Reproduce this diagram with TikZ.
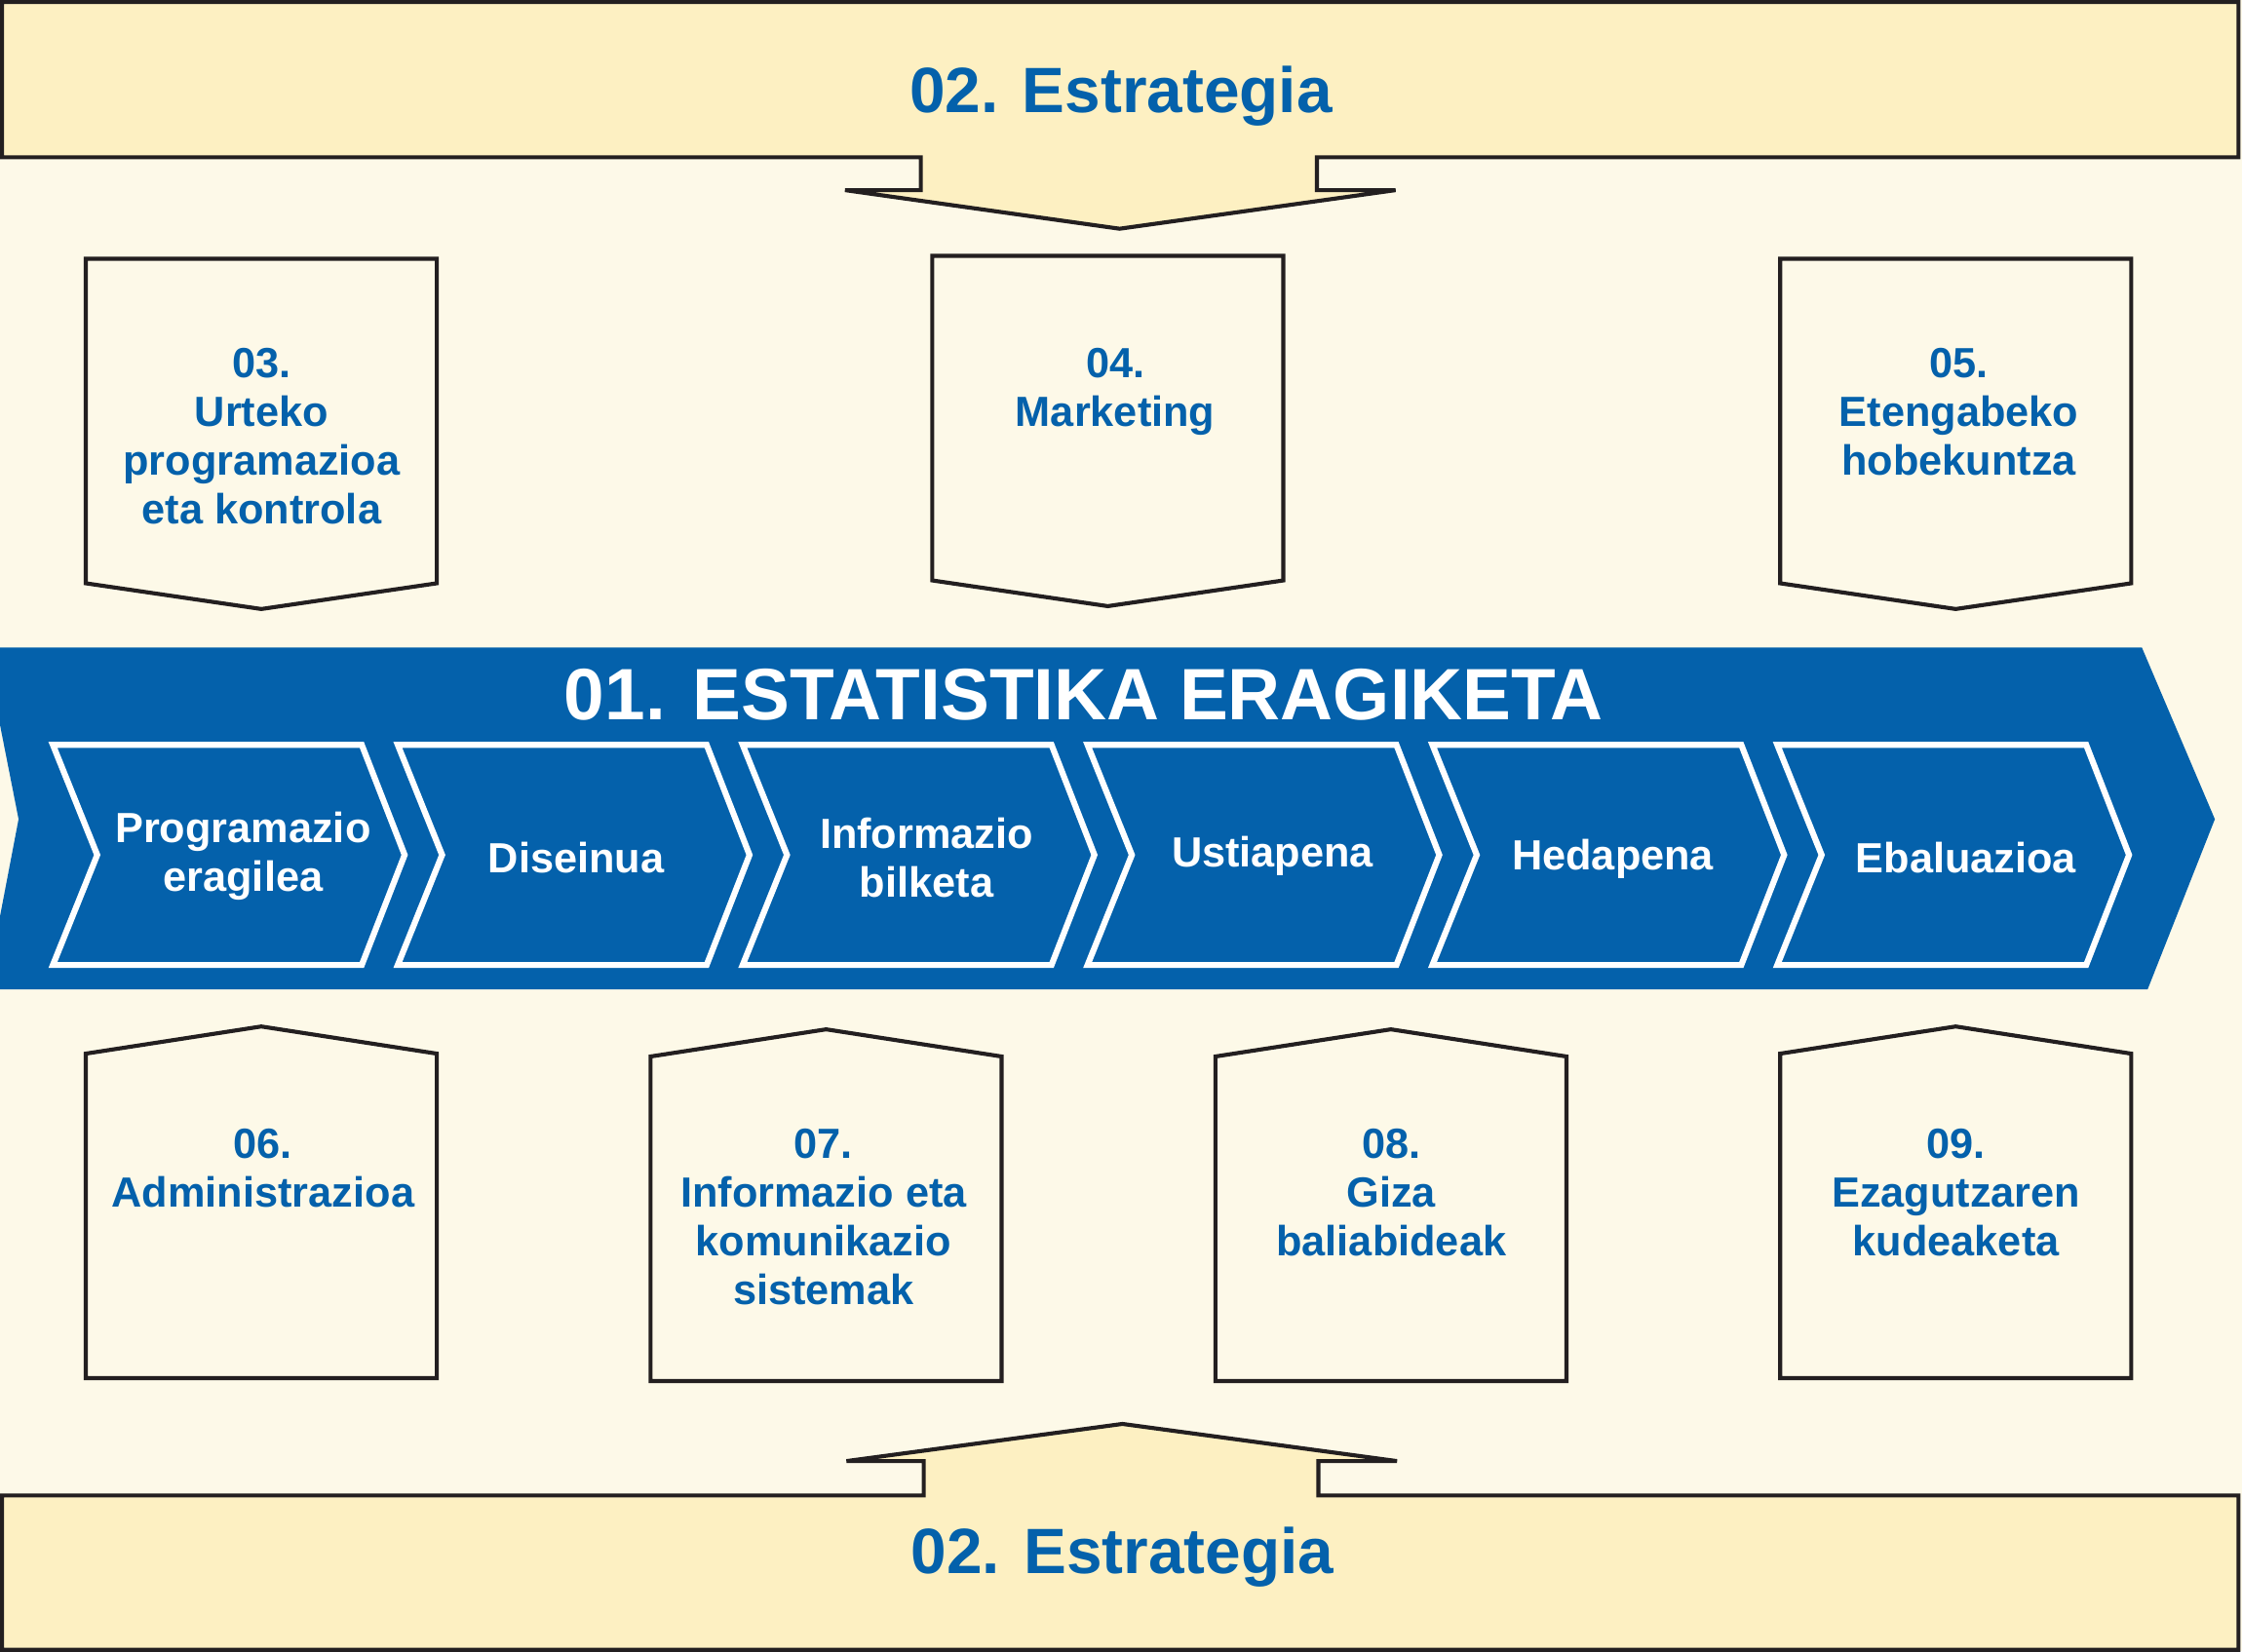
\documentclass[tikz,border=0pt]{standalone}
\usepackage{fontspec}
\setmainfont{Liberation Sans}

\definecolor{krema}{RGB}{253,249,232}
\definecolor{bandakolore}{RGB}{253,240,194}
\definecolor{urdina}{RGB}{4,97,171}
\definecolor{ertza}{RGB}{35,31,32}

\tikzset{
   boxline/.style={draw=ertza,line width=1.6pt,line join=miter},
   stepline/.style={draw=white,fill=urdina,line width=2.4pt,line join=miter},
   bannertext/.style={text=urdina,font=\fontsize{25.5}{30}\selectfont\bfseries,inner sep=0pt},
   boxtext/.style={text=urdina,font=\fontsize{16.8}{19.4}\selectfont\bfseries,align=center,anchor=north,inner sep=0pt},
   steptext/.style={text=white,font=\fontsize{16.8}{19.4}\selectfont\bfseries,align=center,inner sep=0pt},
}

\begin{document}
\begin{tikzpicture}[x=0.02cm,y=-0.02cm]

   \useasboundingbox[fill=krema] (0,0) rectangle (1568,1155);

   % estrategia goian
   \draw[boxline,fill=bandakolore] (1.4,1.4) -- (1565.5,1.4) -- (1565.5,110) -- (921,110) -- (921,133)
      -- (976,133) -- (783,160) -- (591,133) -- (644,133) -- (644,110) -- (1.4,110) -- cycle;
   \node[bannertext] (estrategia1) at (784,67) {02. Estrategia};

   % estrategia behean
   \draw[boxline,fill=bandakolore] (1.4,1154) -- (1.4,1046) -- (646,1046) -- (646,1022) -- (592,1022)
      -- (785,996) -- (977,1022) -- (922,1022) -- (922,1046) -- (1565.5,1046) -- (1565.5,1154) -- cycle;
   \node[bannertext] (estrategia2) at (785,1089) {02. Estrategia};

   % goiko kutxak
   \foreach \x/\t/\b/\p in {60/181/408/426, 652/179/406/424, 1245/181/408/426} {
      \draw[boxline] (\x,\t) -- ++(245.5,0) -- (\x+245.5,\b) -- (\x+122.75,\p) -- (\x,\b) -- cycle;
   }
   \node[boxtext] (urteko) at (183,243) {03.\\Urteko\\programazioa\\eta kontrola};
   \node[boxtext] (marketing) at (780,243) {04.\\Marketing};
   \node[boxtext] (hobekuntza) at (1370,243) {05.\\Etengabeko\\hobekuntza};

   % beheko kutxak
   \foreach \x/\b/\t/\p in {60/964/737/718, 455/966/739/720, 850/966/739/720, 1245/964/737/718} {
      \draw[boxline] (\x,\b) -- ++(245.5,0) -- (\x+245.5,\t) -- (\x+122.75,\p) -- (\x,\t) -- cycle;
   }
   \node[boxtext] (administrazioa) at (184,789) {06.\\Administrazioa};
   \node[boxtext] (sistemak) at (576,789) {07.\\Informazio eta\\komunikazio\\sistemak};
   \node[boxtext] (giza) at (973,789) {08.\\Giza\\baliabideak};
   \node[boxtext] (ezagutza) at (1368,789) {09.\\Ezagutzaren\\kudeaketa};

   % eragiketa gezia
   \fill[urdina] (0,453) -- (1498,453) -- (1549,573) -- (1502,692) -- (0,692) -- (0,641) -- (13,573)
      -- (0,507) -- cycle;
   \node[text=white,font=\fontsize{29}{34}\selectfont\bfseries,inner sep=0pt] (eragiketa) at (758,486)
      {01. ESTATISTIKA ERAGIKETA};

   \foreach \i in {0,...,5} {
      \pgfmathsetmacro\x{37+241.2*\i}
      \draw[stepline] (\x,521) -- ++(216,0) -- ++(30,77) -- ++(-30,77) -- ++(-216,0) -- ++(31,-77) -- cycle;
   }
   \node[steptext] (s1) at (170,599) {Programazio\\eragilea};
   \node[steptext] (s2) at (403,600) {Diseinua};
   \node[steptext] (s3) at (648,600) {Informazio\\bilketa};
   \node[steptext] (s4) at (890,599) {Ustiapena};
   \node[steptext] (s5) at (1128,601) {Hedapena};
   \node[steptext] (s6) at (1375,600) {Ebaluazioa};

\end{tikzpicture}
\end{document}
